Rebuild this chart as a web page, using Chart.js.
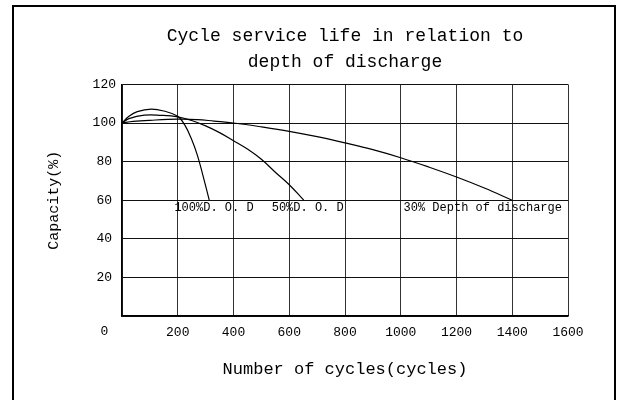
<!DOCTYPE html>
<html>
<head>
<meta charset="utf-8">
<script src="https://cdn.jsdelivr.net/npm/chart.js@4/dist/chart.umd.min.js"></script>
<style>
html,body{margin:0;padding:0;background:#fff;overflow:hidden;}
#wrap{position:relative;width:618px;height:400px;overflow:hidden;}
#frame{position:absolute;left:12px;top:5px;width:600px;height:410px;border:2px solid #000;pointer-events:none;}
canvas{position:absolute;left:0;top:0;}
</style>
</head>
<body>
<div id="wrap"><canvas id="c" width="618" height="400"></canvas><div id="frame"></div></div>
<script>
// ---- data ----
const titleLines = ['Cycle service life in relation to', 'depth of discharge'];
const xAxisTitle = 'Number of cycles(cycles)';
const yAxisTitle = 'Capacity(%)';
const xTickValues = [0, 200, 400, 600, 800, 1000, 1200, 1400, 1600];
const yTickValues = [0, 20, 40, 60, 80, 100, 120];
const seriesNames = ['100%D. O. D', '50%D. O. D', '30% Depth of discharge'];

const dod100Cycles   = [0, 25, 55, 105, 150, 200, 225, 250, 270, 290, 313];
const dod100Capacity = [100, 103.5, 105.9, 107.2, 106.2, 103.5, 99, 91.5, 83.5, 73, 60];

const dod50Cycles   = [0, 25, 80, 140, 200, 250, 300, 350, 400, 450, 500, 550, 600, 652];
const dod50Capacity = [100, 102.3, 104.1, 104, 103.2, 101.3, 98.5, 95, 90.8, 86.5, 81.2, 74.5, 68, 60];

const dod30Cycles   = [0, 40, 100, 200, 270, 330, 400, 500, 600, 700, 800, 900, 1000, 1100, 1200, 1300, 1400];
const dod30Capacity = [100, 100.8, 101.4, 102, 101.8, 101, 100, 98, 95.7, 92.9, 89.7, 86.2, 82, 77.2, 72, 66.3, 60];

const labelCycles   = [188, 537, 1010];
const labelCapacity = [60, 60, 60];

// ---- chart ----
const FONT = '"Liberation Mono", "DejaVu Sans Mono", monospace';
Chart.defaults.color = '#000';
Chart.defaults.font.family = FONT;

function toPoints(xs, ys) { return xs.map((x, i) => ({x: x, y: ys[i]})); }

const seriesX = [dod100Cycles, dod50Cycles, dod30Cycles];
const seriesY = [dod100Capacity, dod50Capacity, dod30Capacity];

const datasets = seriesNames.map((name, i) => ({
  label: name,
  data: toPoints(seriesX[i], seriesY[i]),
  borderColor: '#000',
  borderWidth: 1.2,
  pointRadius: 0,
  fill: false,
  showLine: true,
  tension: 0.4
}));

const curveLabelPlugin = {
  id: 'curveLabels',
  afterDatasetsDraw(chart) {
    const {ctx, scales} = chart;
    ctx.save();
    ctx.font = '12px ' + FONT;
    ctx.fillStyle = '#000';
    ctx.textAlign = 'left';
    ctx.textBaseline = 'middle';
    seriesNames.forEach((name, i) => {
      ctx.fillText(name, scales.x.getPixelForValue(labelCycles[i]), scales.y.getPixelForValue(labelCapacity[i]) + 8);
    });
    ctx.restore();
  }
};

new Chart(document.getElementById('c'), {
  type: 'scatter',
  data: {datasets: datasets},
  plugins: [curveLabelPlugin],
  options: {
    responsive: false,
    animation: false,
    layout: {padding: {left: 0, right: 50, top: 0, bottom: 0}},
    plugins: {
      legend: {display: false},
      tooltip: {enabled: false},
      title: {
        display: true,
        fullSize: false,
        text: titleLines,
        color: '#000',
        font: {family: FONT, size: 18, weight: 'normal', lineHeight: 1.4},
        padding: {top: 24, bottom: 10}
      }
    },
    scales: {
      x: {
        type: 'linear',
        min: 0, max: 1600,
        afterBuildTicks: (s) => { s.ticks = xTickValues.map(v => ({value: v})); },
        afterFit: (s) => { s.height = 84; },
        ticks: {
          autoSkip: false, maxRotation: 0, padding: 9,
          font: {family: FONT, size: 13},
          color: '#000',
          callback: (v) => v === 0 ? '' : String(v)
        },
        grid: {color: '#333', lineWidth: 1, drawTicks: false},
        border: {display: true, color: '#000', width: 1.5},
        title: {
          display: true, text: xAxisTitle, color: '#000',
          font: {family: FONT, size: 17}, padding: {top: 0, bottom: 20}
        }
      },
      y: {
        type: 'linear',
        min: 0, max: 120,
        afterBuildTicks: (s) => { s.ticks = yTickValues.map(v => ({value: v})); },
        afterFit: (s) => { s.width = 122; },
        ticks: {
          autoSkip: false, padding: 6, crossAlign: 'center',
          font: {family: FONT, size: 13},
          color: '#000',
          callback: (v) => v === 0 ? ['', '', '0'] : String(v)
        },
        grid: {color: '#111', lineWidth: 1, drawTicks: false},
        border: {display: true, color: '#000', width: 1.5},
        title: {
          display: true, text: yAxisTitle, color: '#000',
          font: {family: FONT, size: 15}, padding: {top: 45, bottom: 0}
        }
      }
    }
  }
});
</script>
</body>
</html>
